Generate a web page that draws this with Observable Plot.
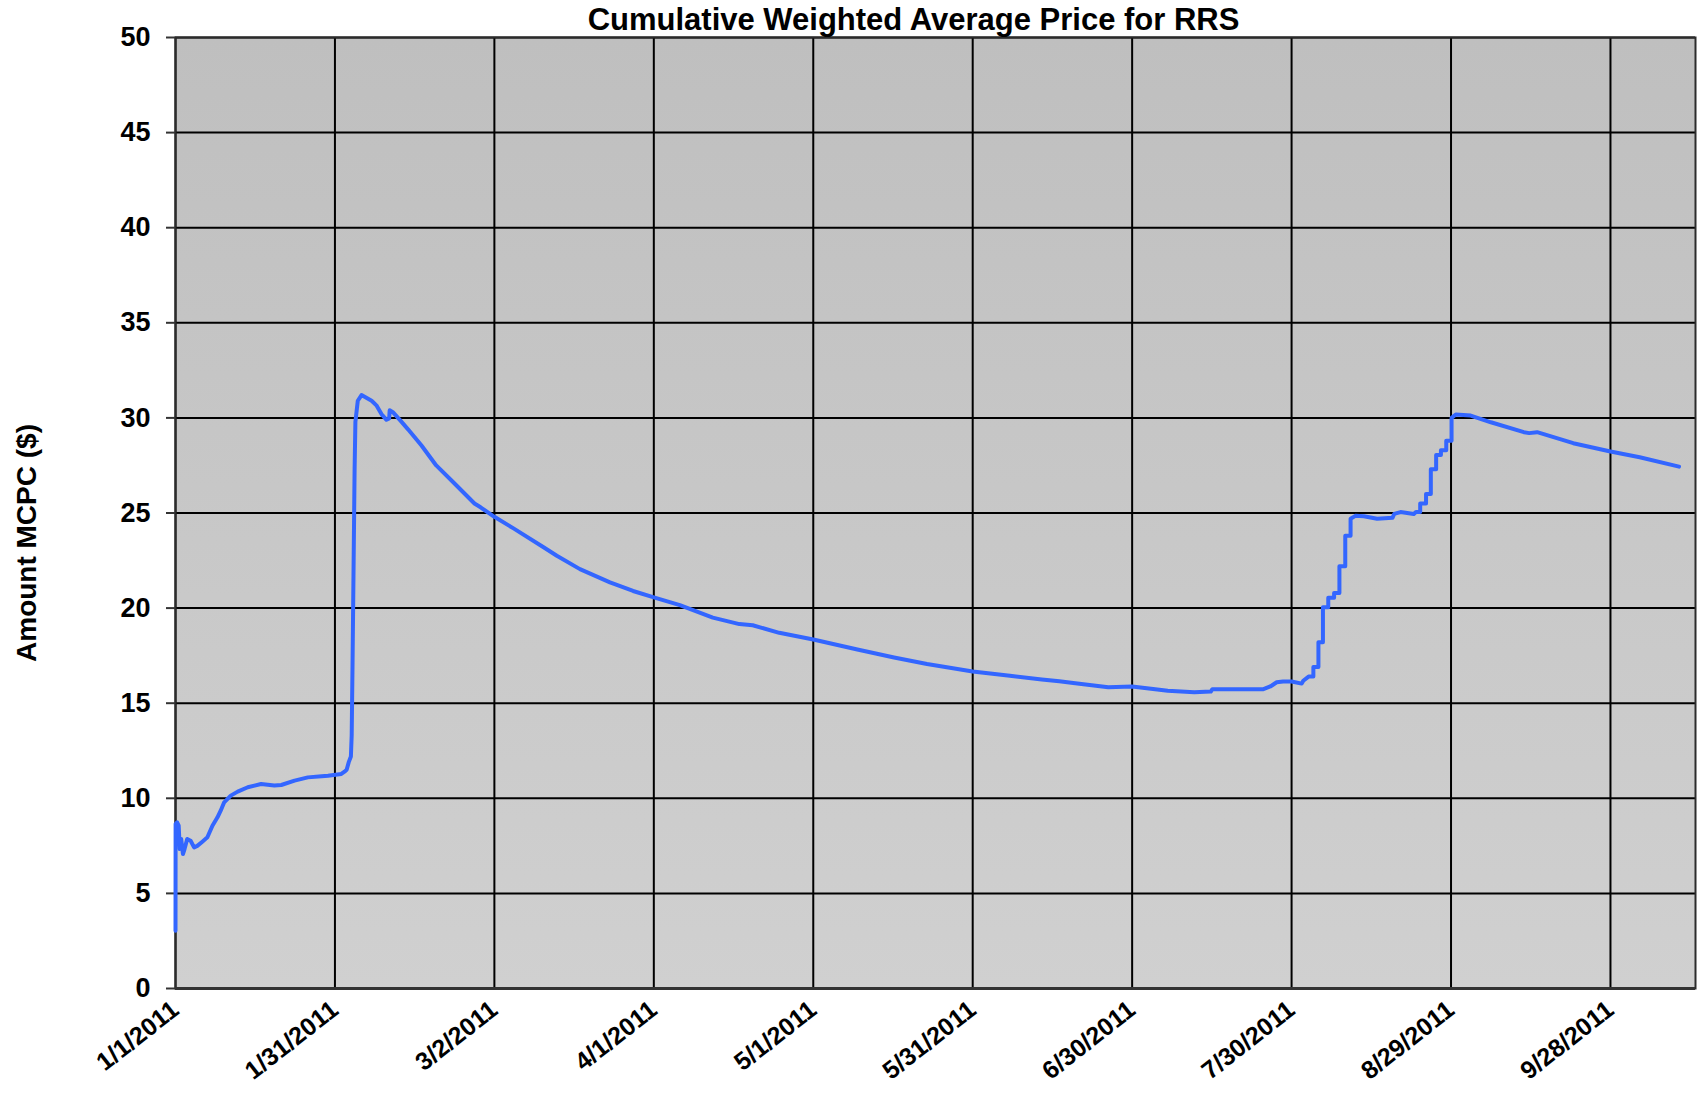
<!DOCTYPE html>
<html>
<head>
<meta charset="utf-8">
<script src="https://cdn.jsdelivr.net/npm/d3@7"></script>
<script src="https://cdn.jsdelivr.net/npm/@observablehq/plot@0.6"></script>
<style>
  html, body { margin: 0; padding: 0; background: #ffffff; }
  #chart { width: 1703px; height: 1096px; }
</style>
</head>
<body>
<div id="chart"></div>
<script>
// ---- data (days since 1/1/2011, cumulative weighted average price) ----
const title = "Cumulative Weighted Average Price for RRS";
const yLabel = "Amount MCPC ($)";
const xTickLabels = ["1/1/2011", "1/31/2011", "3/2/2011", "4/1/2011", "5/1/2011", "5/31/2011", "6/30/2011", "7/30/2011", "8/29/2011", "9/28/2011"];
const yTicks = [0, 5, 10, 15, 20, 25, 30, 35, 40, 45, 50];
const xDomainLabels = ["1/1/2011", "10/14/2011"];

const days = [
  0, 0.02, 0.3, 0.6, 0.8, 1.07, 1.4, 1.7, 2.2, 2.84, 3.5, 4.1, 5.05, 6.0, 6.95, 7.9, 8.5, 9.16, 10.4, 11.7,
  13.6, 16.1, 18.6, 19.9, 22.4, 24.9, 27.5, 28.7, 31.2, 31.8, 32.2, 32.6, 33.0, 33.15, 33.3, 33.5, 33.7, 33.85, 34.3, 35.0,
  36.9, 37.8, 38.75, 39.7, 40.2, 40.3, 40.9, 42.5, 43.75, 46.25, 49.06, 52.5, 56.25, 57.4, 60, 63.6, 69.25, 71.75, 76.1, 81.75,
  86.1, 90, 94.9, 101.1, 106.1, 108.6, 113.6, 120, 128.3, 135.2, 141.4, 150, 157, 163, 166.3, 169.3, 175.5, 180, 186.7, 191.7,
  194.8, 195.1, 200.4, 204.7, 206, 207.2, 208.4, 210, 211.9, 212.2, 213.2, 214.1, 214.1, 215.05, 215.05, 215.9, 215.9, 216.9, 216.9, 218,
  218, 219, 219, 220.1, 220.1, 221.1, 221.1, 222, 223.6, 226.1, 229, 229.3, 230.5, 233, 233.4, 234.2, 234.2, 235.3, 235.3, 236.2,
  236.2, 237.2, 237.2, 238.1, 238.1, 239.1, 239.1, 240.1, 240.1, 240.9, 243.7, 247.5, 253.7, 254.7, 256.2, 263, 270, 275.5, 282.9
];
const values = [
  3.04, 8.65, 8.74, 8.56, 7.33, 7.86, 7.07, 7.33, 7.86, 7.77, 7.42, 7.5, 7.72, 7.95, 8.56, 9.0, 9.35, 9.79, 10.14, 10.35,
  10.58, 10.75, 10.67, 10.7, 10.93, 11.1, 11.16, 11.19, 11.28, 11.4, 11.5, 11.9, 12.2, 13.3, 16.8, 22.0, 27.3, 29.8, 30.9, 31.2,
  30.9, 30.66, 30.2, 29.9, 29.97, 30.4, 30.3, 29.8, 29.4, 28.56, 27.5, 26.55, 25.5, 25.3, 24.8, 24.19, 23.2, 22.75, 22.05, 21.35,
  20.9, 20.56, 20.16, 19.5, 19.16, 19.1, 18.7, 18.35, 17.82, 17.4, 17.06, 16.67, 16.44, 16.25, 16.15, 16.05, 15.84, 15.88, 15.65, 15.58,
  15.61, 15.74, 15.74, 15.74, 15.88, 16.1, 16.14, 16.14, 16.03, 16.18, 16.4, 16.4, 16.9, 16.9, 18.2, 18.2, 20.05, 20.05, 20.55, 20.55,
  20.8, 20.8, 22.2, 22.2, 23.8, 23.8, 24.7, 24.85, 24.83, 24.7, 24.75, 24.95, 25.05, 24.95, 25.05, 25.05, 25.5, 25.5, 26.0, 26.0,
  27.3, 27.3, 28.05, 28.05, 28.3, 28.3, 28.8, 28.8, 30.0, 30.18, 30.12, 29.77, 29.25, 29.2, 29.25, 28.67, 28.23, 27.93, 27.44
];

// ---- helpers ----
const DAY = 864e5;
const base = Date.UTC(2011, 0, 1);
const parseMDY = s => { const [m, d, y] = s.split("/").map(Number); return new Date(Date.UTC(y, m - 1, d)); };
const fmtMDY = d => `${d.getUTCMonth() + 1}/${d.getUTCDate()}/${d.getUTCFullYear()}`;
const data = days.map((d, i) => ({date: new Date(base + d * DAY), value: values[i]}));
const xTicks = xTickLabels.map(parseMDY);
const font = "'Liberation Sans', Arial, Helvetica, sans-serif";

const plot = Plot.plot({
  width: 1703,
  height: 1096,
  marginLeft: 175,
  marginRight: 8,
  marginTop: 37,
  marginBottom: 108,
  style: {fontFamily: font, fontWeight: "bold", color: "#000", background: "#fff", overflow: "visible"},
  x: {type: "utc", domain: xDomainLabels.map(parseMDY)},
  y: {domain: [0, 50]},
  marks: [
    Plot.frame({fill: "url(#plotBg)", stroke: null}),
    Plot.gridX(xTicks, {stroke: "#000", strokeOpacity: 1, strokeWidth: 2}),
    Plot.gridY(yTicks, {stroke: "#000", strokeOpacity: 1, strokeWidth: 2}),
    Plot.frame({stroke: "#2b2b2b", strokeWidth: 2}),
    Plot.ruleY([0], {stroke: "#333", strokeWidth: 3}),
    Plot.axisY(yTicks, {tickSize: 9, tickPadding: 16, fontSize: 27, fontWeight: "bold", stroke: "#333", strokeWidth: 2, label: null}),
    Plot.axisX(xTicks, {tickSize: 0, tickPadding: 18, tickRotate: -38, fontSize: 25, fontWeight: "bold", tickFormat: fmtMDY, label: null}),
    Plot.line(data, {x: "date", y: "value", stroke: "#3366ff", strokeWidth: 4, curve: "linear", strokeLinejoin: "round"}),
    Plot.text([title], {frameAnchor: "top", lineAnchor: "middle", dy: -17, dx: -22, fontSize: 31, fontWeight: "bold", fill: "#000"}),
    Plot.text([yLabel], {frameAnchor: "left", textAnchor: "middle", lineAnchor: "middle", rotate: -90, dx: -148, dy: 30, fontSize: 28, fontWeight: "bold", fill: "#000"})
  ]
});

const svg = d3.select(plot);
const defs = svg.insert("defs", ":first-child");
const grad = defs.append("linearGradient").attr("id", "plotBg").attr("x1", 0).attr("y1", 0).attr("x2", 0).attr("y2", 1);
grad.append("stop").attr("offset", "0%").attr("stop-color", "#bfbfbf");
grad.append("stop").attr("offset", "100%").attr("stop-color", "#d0d0d0");

document.getElementById("chart").appendChild(plot);
</script>
</body>
</html>
